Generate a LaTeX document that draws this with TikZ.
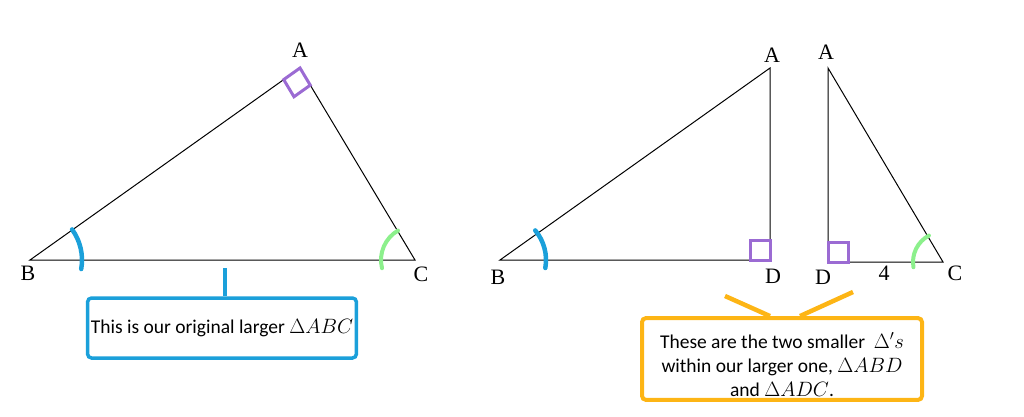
\documentclass[tikz,border=0pt]{standalone}
\usepackage{fontspec}
\setmainfont{Liberation Serif}
\newfontfamily\notefont{Carlito}
\usepackage{tikz}
\usetikzlibrary{calc}
\usetikzlibrary{positioning}
\definecolor{markblue}{HTML}{1BA0DA}
\definecolor{markgreen}{HTML}{8CF08C}
\definecolor{markpurple}{HTML}{9B6BD3}
\definecolor{markorange}{HTML}{FDB515}

\begin{document}
\begin{tikzpicture}[
		x=1pt, y=1pt,
		vlabel/.style={font=\fontsize{22}{22}\selectfont, inner sep=0pt},
		side/.style={line width=1pt, black},
		rightmark/.style={draw=markpurple, line width=3pt},
		bluearc/.style={markblue, line width=4.5pt, line cap=round},
		greenarc/.style={markgreen, line width=4pt, line cap=round},
		note/.style={draw, line width=3.5pt, rounded corners=4pt, align=center,
				font=\notefont\fontsize{19.5}{24}\selectfont}
	]
	\useasboundingbox (0,0) rectangle (1024,416);
	% original triangle ABC
	\coordinate (A) at (300,348);
	\coordinate (B) at (30,156);
	\coordinate (C) at (415,156);
	\draw[side] (B) -- (A) -- (C) -- cycle;
	\coordinate (ab) at ($(A)!20pt!(B)$);
	\coordinate (ac) at ($(A)!20pt!(C)$);
	\draw[rightmark] (A) -- (ab) -- ($(ab)+(ac)-(A)$) -- (ac) -- cycle;
	\draw[bluearc] ($(B)+(-10:52)$) arc[start angle=-10, end angle=36, radius=52];
	\draw[greenarc] ($(C)+(120:34)$) arc[start angle=120, end angle=194, radius=34];
	\node[vlabel] (lA) at (300,366) {A};
	\node[vlabel] (lB) at (28,143) {B};
	\node[vlabel] (lC) at (421,142) {C};

	% triangle ABD
	\coordinate (A2) at (770,348);
	\coordinate (B2) at (500,156);
	\coordinate (D2) at (770,156);
	\draw[side] (B2) -- (A2) -- (D2) -- cycle;
	\draw[rightmark] (D2) rectangle ++(-20,20);
	\draw[bluearc] ($(B2)+(-10:46)$) arc[start angle=-10, end angle=40, radius=46];
	\node[vlabel] (lA2) at (772,361) {A};
	\node[vlabel] (lB2) at (498,139) {B};
	\node[vlabel] (lD2) at (773,140) {D};

	% triangle ADC
	\coordinate (A3) at (828,348);
	\coordinate (D3) at (828,154);
	\coordinate (C3) at (943,154);
	\draw[side] (D3) -- (A3) -- (C3) -- cycle;
	\draw[rightmark] (D3) rectangle ++(20,20);
	\draw[greenarc] ($(C3)+(118:30)$) arc[start angle=118, end angle=190, radius=30];
	\node[vlabel] (lA3) at (826,364) {A};
	\node[vlabel] (lD3) at (823,139) {D};
	\node[vlabel] (lC3) at (955,143) {C};
	\node[vlabel] (len) at (884,143) {4};

	% callouts
	\node[note, draw=markblue, minimum width=262pt, minimum height=60pt] (note1) at (222,88)
		{This is our original larger $\Delta ABC$};
	\coordinate (tick) at (225,148);
	\draw[markblue, line width=3.5pt] (tick) -- (note1.north -| tick);

	\node[note, draw=markorange, line width=4pt, minimum width=280pt, minimum height=78pt] (note2) at (782,57)
		{\rule{0pt}{27pt}These are the two smaller~ $\Delta's$\\ within our larger one, $\Delta ABD$\\ and $\Delta ADC$.};
	\coordinate (tipL) at (725,120);
	\coordinate (tipR) at (853,124);
	\draw[markorange, line width=4.5pt] (tipL) -- ([xshift=-12pt]note2.north);
	\draw[markorange, line width=4.5pt] (tipR) -- ([xshift=18pt]note2.north);
\end{tikzpicture}
\end{document}
